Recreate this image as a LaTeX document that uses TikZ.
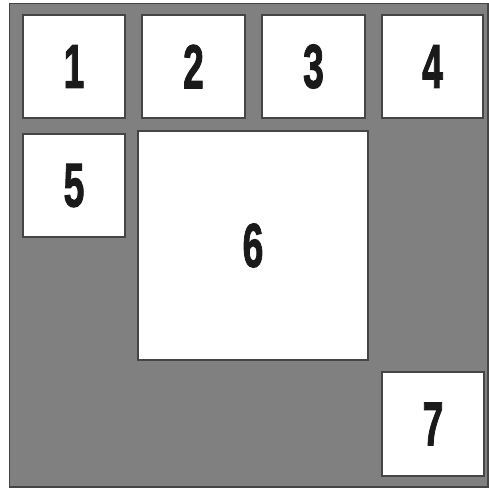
\documentclass[tikz,border=0pt]{standalone}
\usepackage{fontspec}
\setmainfont{Liberation Sans}
\newfontfamily\heavyfont[BoldFont={Liberation Sans Bold},BoldFeatures={FakeBold=2}]{Liberation Sans}
\definecolor{panelgray}{HTML}{808080}
\definecolor{edgegray}{HTML}{454545}
\definecolor{digitblack}{HTML}{1A1A1A}
\begin{document}
\begin{tikzpicture}[x=1pt,y=-1pt,
  frame/.style={draw=edgegray,line width=1.8pt,fill=white,inner sep=0pt,text=digitblack,
    font=\heavyfont\fontsize{62}{62}\selectfont\bfseries}]
\useasboundingbox (0,0) rectangle (489,488);
\fill[panelgray,draw=edgegray,line width=1.5pt] (9.5,3.5) rectangle (488,487);
\newcommand{\dig}[1]{\scalebox{0.6}[1]{#1}}
\node[frame,minimum width=102pt,minimum height=103pt] (b1) at (74,66.5) {\dig{1}};
\node[frame,minimum width=103pt,minimum height=103pt] (b2) at (193.5,66.5) {\dig{2}};
\node[frame,minimum width=103pt,minimum height=103pt] (b3) at (313.5,66.5) {\dig{3}};
\node[frame,minimum width=101pt,minimum height=103pt] (b4) at (432.5,66.5) {\dig{4}};
\node[frame,minimum width=102pt,minimum height=103pt] (b5) at (74,185.5) {\dig{5}};
\node[frame,minimum width=230pt,minimum height=229pt] (b6) at (253,245.5) {\dig{6}};
\node[frame,minimum width=102pt,minimum height=104pt] (b7) at (433,424) {\dig{7}};
\end{tikzpicture}
\end{document}
